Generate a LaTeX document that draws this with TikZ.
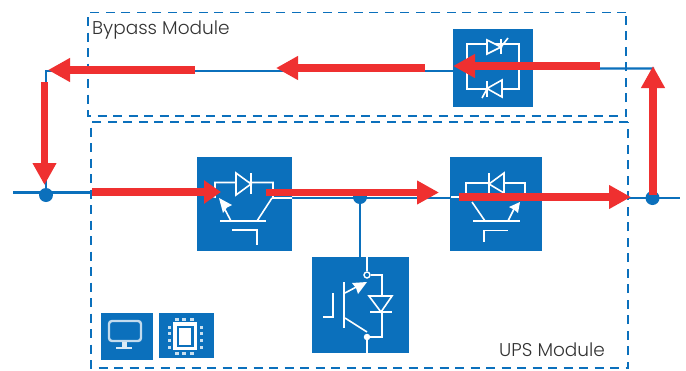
\documentclass[tikz,border=0pt]{standalone}
\usepackage{fontspec}
\setmainfont{Poppins Light}
\usetikzlibrary{arrows.meta}
\definecolor{ublue}{HTML}{0B70BC}
\definecolor{ured}{HTML}{EF3030}
\tikzset{
 x=1pt,y=-1pt,
 wire/.style={draw=ublue,line width=2.3pt},
 dashbox/.style={draw=ublue,line width=1.6pt,dash pattern=on 9pt off 6.5pt},
 dotn/.style={circle,fill=ublue,minimum size=14pt,inner sep=0pt},
 flow/.style={draw=ured,line width=7.7pt,-{Triangle[length=22pt,width=22.5pt]}},
 flowshort/.style={draw=ured,line width=7.7pt,-{Triangle[length=17pt,width=22.5pt]}},
 sym/.style={draw=white,line width=1.6pt},
 symf/.style={draw=white,fill=ublue,line width=1.6pt},
 label/.style={font=\fontsize{18.5}{22}\selectfont,text=black!80,inner sep=0pt,anchor=base west},
 iconl/.style={white!78!ublue},
}
\begin{document}
\begin{tikzpicture}
\useasboundingbox (0,0) rectangle (686,370);
\fill[white] (0,0) rectangle (686,370);
% dashed modules
\draw[dashbox] (626,12.5) -- (88,12.5) -- (88,116) -- (626,116) -- cycle;
\draw[dashbox] (628,122) -- (91,122) -- (91,368) -- (628,368) -- cycle;
\node[label] (bypass) at (92,34) {Bypass Module};
\node[label] (upsl) at (499,356) {UPS Module};
% blocks
\node[fill=ublue,minimum width=95pt,minimum height=94pt,inner sep=0pt] (rect) at (244.5,203.5) {};
\node[fill=ublue,minimum width=92pt,minimum height=94pt,inner sep=0pt] (inv) at (496,203.5) {};
\node[fill=ublue,minimum width=80pt,minimum height=78pt,inner sep=0pt] (sts) at (493,68) {};
\node[fill=ublue,minimum width=97pt,minimum height=96pt,inner sep=0pt] (chg) at (360.5,305) {};
\node[fill=ublue,minimum width=52pt,minimum height=47pt,inner sep=0pt] (mon) at (127,336.5) {};
\node[fill=ublue,minimum width=55pt,minimum height=45pt,inner sep=0pt] (cpu) at (186.5,335.5) {};
% junctions
\node[dotn] (jl) at (46,195) {};
\node[dotn] (jm) at (360,197) {};
\node[dotn] (jr) at (652.5,198) {};
\coordinate (wl) at (13,192.5);
\coordinate (wr) at (680,198);
\coordinate (tl) at (46,71);
\coordinate (tr) at (653,68.5);
% wires
\draw[wire] (wl) -- (rect.west |- wl);
\draw[wire] (rect.east |- 0,198) -- (inv.west |- 0,198);
\draw[wire] (inv.east |- 0,198) -- (wr);
\draw[wire] (jr.center) -- (tr) -- (sts.east |- tr);
\draw[wire] (sts.west |- 0,71) -- (tl) -- (jl.center);
\draw[wire] (jm.center) -- (chg.north -| jm);
% rectifier symbol
\draw[sym] (197,192.5) -- (215,197) -- (215,182.5) -- (273,182.5) -- (273,198) -- (292,198);
\draw[symf] (236,173) -- (251,184) -- (236,195) -- cycle;
\draw[sym] (251,173) -- (251,194);
\draw[sym] (220,221) -- (266,221);
\draw[sym] (231,221) -- (221,202);
\fill[white] (219,198) -- (232,205) -- (227,207.5) -- (223,213) -- cycle;
\draw[sym] (257,221) -- (272,198);
\draw[sym] (232,230) -- (257,230) -- (257,245);
% inverter symbol
\draw[sym] (451,197) -- (466,197) -- (466,183) -- (525,183) -- (525,197) -- (541,197);
\draw[sym] (472,202) -- (485,221);
\draw[sym] (473,221) -- (520,221);
\draw[sym] (508,221) -- (516,205);
\fill[white] (520,202) -- (518,213) -- (514,209.5) -- (509,207) -- cycle;
\draw[symf] (504,173) -- (489,184) -- (504,193) -- cycle;
\draw[sym] (489,173) -- (489,193);
\draw[sym] (484,242) -- (484,230.5) -- (508,230.5);
% static switch symbol
\draw[sym] (467,44) rectangle (519,89);
\draw[symf] (487,40) -- (501,47) -- (487,54) -- cycle;
\draw[sym] (501,39) -- (501,54);
\draw[sym] (501,47) -- (508,38);
\draw[symf] (502,80) -- (487,88.5) -- (502,97) -- cycle;
\draw[sym] (487,81) -- (487,97);
\draw[sym] (487,89) -- (482,98);
% charger symbol
\node[circle,draw=white,fill=ublue,line width=1.4pt,minimum size=6pt,inner sep=0pt] (c1) at (367,275) {};
\node[circle,fill=white,minimum size=6.5pt,inner sep=0pt] (c2) at (367,337) {};
\draw[sym] (367,257) -- (c1);
\draw[sym] (c2) -- (367,353);
\draw[sym] (c1) -- (382,275) -- (382,337) -- (c2);
\draw[symf] (369,296) -- (392,296) -- (381,312) -- cycle;
\draw[sym] (370,312) -- (392,312);
\draw[sym] (344,282) -- (344,328);
\draw[sym] (345,293) -- (360,285);
\fill[white] (367,282) -- (358,294) -- (356,288) -- (352,283) -- cycle;
\draw[sym] (345,318) -- (367,332);
\draw[sym] (323,317) -- (333,317) -- (333,293);
% monitor icon
\draw[draw=white!75!ublue,line width=2.4pt,rounded corners=3pt] (109,321) rectangle (141,341);
\fill[white!85!ublue] (122,342) rectangle (127,347);
\fill[white!85!ublue] (116,347) rectangle (132,349);
% cpu icon
\fill[white] (173,322) rectangle (197,350);
\draw[ublue,line width=2.6pt] (178,327) rectangle (192.5,346);
\foreach \p in {177,184,192} {\fill[iconl] (\p-2,318) rectangle (\p+2,321);\fill[iconl] (\p-2,352) rectangle (\p+2,354.5);}
\foreach \p in {327,333,340,347} {\fill[iconl] (168,\p-1.5) rectangle (171,\p+1.5);\fill[iconl] (200,\p-1.5) rectangle (203,\p+1.5);}
% red flow arrows
\coordinate (a1s) at (600,66); \coordinate (a1e) at (453,66);
\coordinate (a2s) at (425,68); \coordinate (a2e) at (276,68);
\coordinate (a3s) at (195,70); \coordinate (a3e) at (48,70);
\coordinate (a4s) at (44.5,82); \coordinate (a4e) at (44.5,185);
\coordinate (a5s) at (92,192); \coordinate (a5e) at (221,192);
\coordinate (a6s) at (266,192.5); \coordinate (a6e) at (439,192.5);
\coordinate (a7s) at (459,197); \coordinate (a7e) at (631,197);
\coordinate (a8s) at (653,195); \coordinate (a8e) at (653,66);
\foreach \i in {1,2,3,4,6,7,8} \draw[flow] (a\i s) -- (a\i e);
\draw[flowshort] (a5s) -- (a5e);
\end{tikzpicture}
\end{document}
